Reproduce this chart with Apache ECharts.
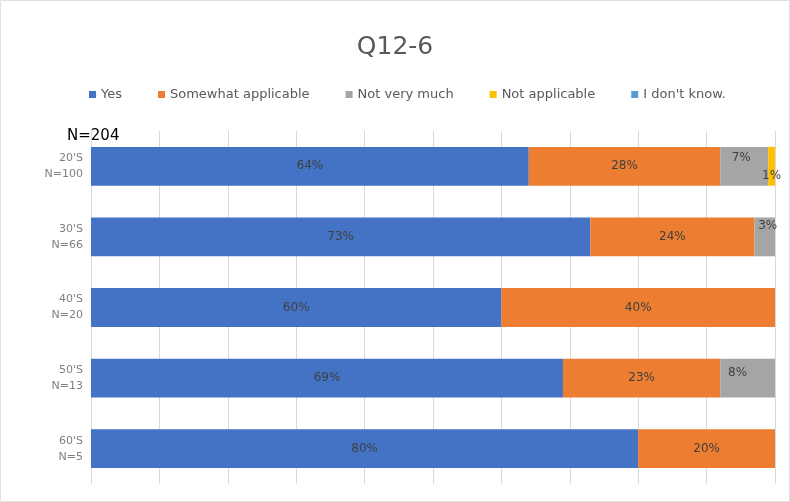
<!DOCTYPE html>
<html>
<head>
<meta charset="utf-8">
<script src="https://cdn.jsdelivr.net/npm/echarts@6/dist/echarts.min.js"></script>
<style>
html,body{margin:0;padding:0;background:#fff;}
#c{width:790px;height:502px;}
</style>
</head>
<body>
<div id="c"></div>
<script>
var categories = ["20'S\nN=100", "30'S\nN=66", "40'S\nN=20", "50'S\nN=13", "60'S\nN=5"];
var seriesNames = ["Yes", "Somewhat applicable", "Not very much", "Not applicable", "I don't know."];
var yes = [64, 73, 60, 69, 80];
var somewhat = [28, 24, 40, 23, 20];
var notVeryMuch = [7, 3, 0, 8, 0];
var notApplicable = [1, 0, 0, 0, 0];
var dontKnow = [0, 0, 0, 0, 0];
var title = "Q12-6";
var totalLabel = "N=204";

var FONT = 'DejaVu Sans, sans-serif';
var colors = ['#4472C4', '#ED7D31', '#A5A5A5', '#FFC000', '#5B9BD5'];
var labelOffsets = {
  2: {0: [-3, -8], 1: [3, -11], 3: [-10, -5]},
  3: {0: [0, 10]}
};
var allData = [yes, somewhat, notVeryMuch, notApplicable, dontKnow];

var chart = echarts.init(document.getElementById('c'));
var series = allData.map(function (arr, si) {
  return {
    name: seriesNames[si],
    type: 'bar',
    stack: 'total',
    barWidth: '55%',
    itemStyle: {color: colors[si]},
    data: arr.map(function (v, i) {
      var d = {value: v};
      if (labelOffsets[si] && labelOffsets[si][i]) {
        d.label = {offset: labelOffsets[si][i]};
      }
      return d;
    }),
    label: {
      show: true,
      position: 'inside',
      color: '#404040',
      fontSize: 12,
      fontFamily: FONT,
      formatter: function (p) { return p.value ? p.value + '%' : ''; }
    }
  };
});

chart.setOption({
  backgroundColor: '#fff',
  animation: false,
  color: colors,
  title: {
    text: title,
    left: 'center',
    top: 30,
    textStyle: {color: '#595959', fontSize: 25, fontWeight: 'normal', fontFamily: FONT}
  },
  legend: {
    top: 83,
    left: 84,
    itemWidth: 7,
    itemHeight: 7,
    itemGap: 36,
    icon: 'rect',
    textStyle: {color: '#595959', fontSize: 13, fontFamily: FONT},
    data: seriesNames
  },
  graphic: [{
    type: 'text',
    left: 67,
    top: 129,
    style: {text: totalLabel, fill: '#000', fontSize: 15, fontFamily: FONT}
  }, {
    type: 'rect',
    shape: {x: 0.5, y: 0.5, width: 789, height: 501},
    style: {fill: 'none', stroke: '#E0E0E0'}
  }],
  grid: {left: 91, right: 15, top: 131, bottom: 18},
  xAxis: {
    type: 'value',
    min: 0,
    max: 100,
    interval: 10,
    axisLabel: {show: false},
    axisLine: {show: false},
    axisTick: {show: false},
    splitLine: {show: true, lineStyle: {color: '#D9D9D9'}}
  },
  yAxis: {
    type: 'category',
    inverse: true,
    data: categories,
    axisLine: {show: false},
    axisTick: {show: false},
    axisLabel: {
      color: '#7F7F7F',
      fontSize: 11,
      lineHeight: 16,
      margin: 8,
      align: 'right',
      fontFamily: FONT
    }
  },
  series: series
});
</script>
</body>
</html>
